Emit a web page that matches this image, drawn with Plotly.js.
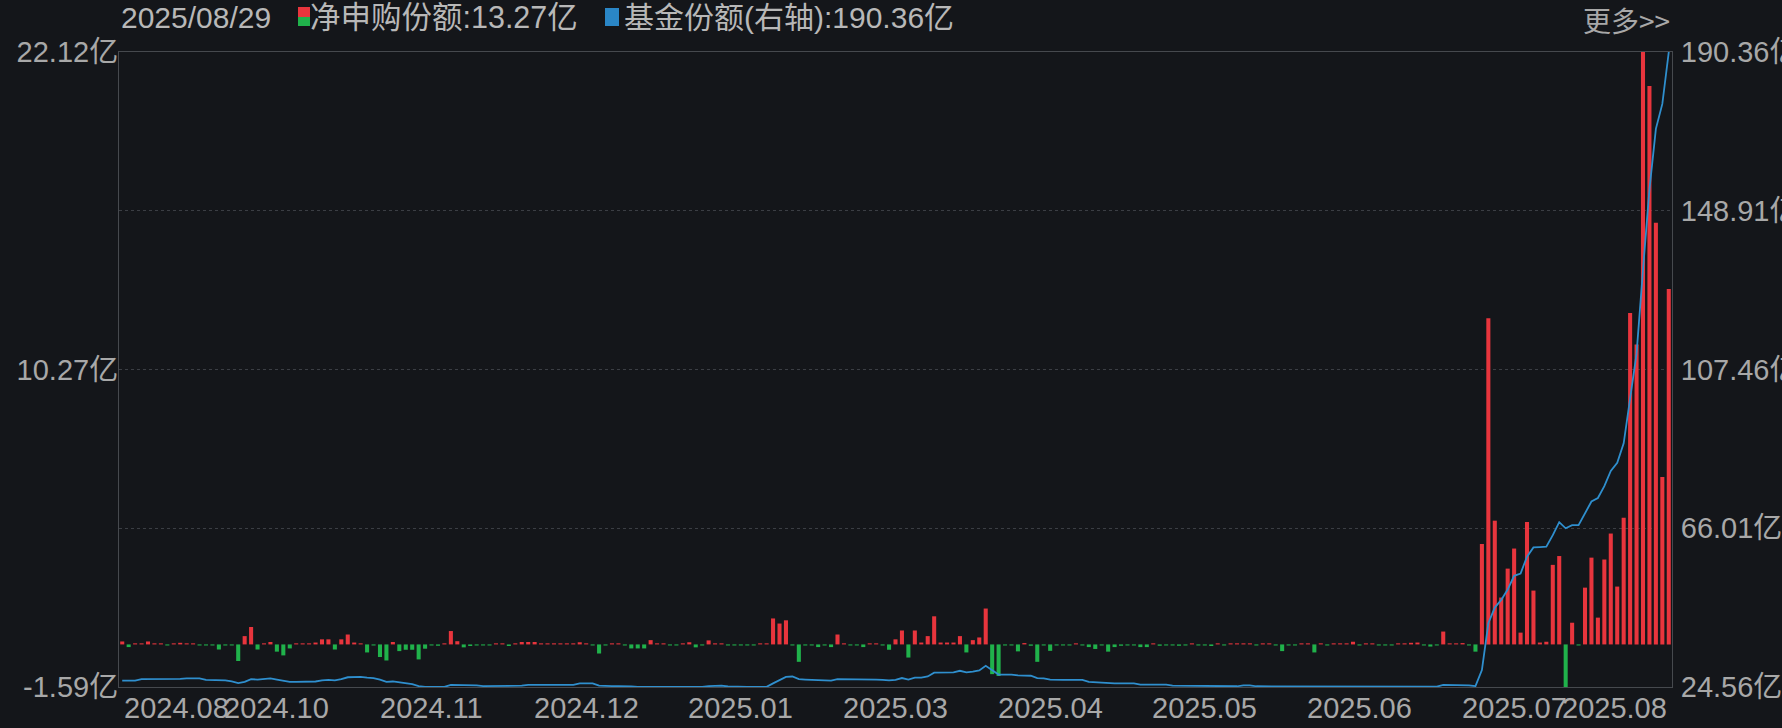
<!DOCTYPE html>
<html>
<head>
<meta charset="utf-8">
<script src="https://cdn.plot.ly/plotly-3.0.1.min.js"></script>
<style>
  html, body { margin: 0; padding: 0; background: #14161a; }
  #chart { width: 1782px; height: 728px; }
</style>
</head>
<body>
<div id="chart"></div>
<script>
// ---- data (亿) ----
const lastDate = '2025/08/29';

// 净申购份额 (left axis), one value per trading day
const netSub = [
  0.11,-0.10,0.04,0.04,0.11,0.04,0.04,-0.04,0.04,0.06,
  0.04,0.04,-0.04,-0.04,-0.04,-0.19,-0.04,-0.04,-0.62,0.31,
  0.65,-0.19,0.04,0.09,-0.27,-0.41,-0.15,0.04,0.04,0.04,
  0.07,0.19,0.19,-0.19,0.19,0.37,0.07,0.04,-0.30,-0.04,
  -0.47,-0.60,0.09,-0.25,-0.20,-0.20,-0.56,-0.16,-0.04,-0.05,
  0.04,0.50,0.12,-0.11,-0.06,-0.04,-0.04,-0.04,0.04,0.04,
  -0.06,0.04,0.09,0.09,0.09,0.04,0.04,0.04,0.04,0.04,
  0.04,0.08,0.04,-0.04,-0.34,-0.04,0.04,0.04,-0.04,-0.15,
  -0.15,-0.15,0.16,0.04,0.04,-0.04,-0.04,0.04,0.08,-0.11,
  -0.04,0.15,0.04,0.04,-0.04,-0.04,-0.04,-0.04,-0.04,0.04,
  0.04,0.97,0.78,0.90,-0.04,-0.65,-0.04,-0.04,-0.10,-0.04,
  -0.10,0.37,0.04,-0.04,-0.04,-0.10,0.04,0.04,-0.04,-0.20,
  0.19,0.52,-0.49,0.52,0.07,0.31,1.05,0.07,0.07,0.07,
  0.31,-0.30,0.16,0.26,1.34,-1.11,-1.18,-0.04,-0.04,-0.26,
  0.05,-0.05,-0.65,-0.04,-0.24,-0.04,-0.04,-0.04,0.04,-0.04,
  -0.10,-0.17,-0.04,-0.27,-0.10,-0.05,-0.04,-0.04,-0.10,-0.10,
  0.04,-0.05,-0.04,-0.04,-0.05,-0.04,0.04,-0.04,-0.04,-0.06,
  0.04,-0.04,0.04,0.04,0.04,0.04,-0.04,0.04,0.04,-0.04,
  -0.25,-0.04,-0.04,0.04,0.04,-0.30,0.04,-0.04,0.04,0.04,
  0.04,0.10,-0.04,0.04,0.04,-0.04,-0.04,-0.04,0.04,0.04,
  0.06,0.07,-0.04,-0.08,-0.04,0.48,0.04,0.04,0.05,-0.04,
  -0.27,3.75,12.18,4.62,1.75,2.83,3.58,0.44,4.57,2.01,
  0.07,0.10,2.97,3.30,-1.59,0.81,-0.04,2.12,3.24,1.00,
  3.17,4.14,2.16,4.73,12.37,11.20,22.12,20.85,15.74,6.25,
  13.27
];

// 基金份额 (right axis)
const fundShares = [
  26.2,26.2,26.2,26.6,26.6,26.6,26.6,26.6,26.6,26.7,
  26.8,26.8,26.8,26.4,26.4,26.3,26.3,26.0,25.6,25.9,
  26.6,26.5,26.6,26.8,26.5,26.1,25.9,25.9,25.9,25.9,
  26.0,26.3,26.4,26.3,26.6,27.1,27.2,27.2,27.0,26.9,
  26.5,25.9,26.0,25.8,25.5,25.3,24.8,24.6,24.6,24.6,
  24.6,25.1,25.1,25.1,25.0,25.0,24.8,24.8,24.8,24.8,
  24.8,24.8,24.9,25.1,25.1,25.1,25.1,25.1,25.1,25.1,
  25.1,25.5,25.5,25.5,24.9,24.8,24.8,24.8,24.8,24.7,
  24.6,24.56,24.6,24.6,24.6,24.6,24.6,24.6,24.7,24.6,
  24.6,24.8,24.9,24.9,24.7,24.6,24.6,24.56,24.56,24.56,
  24.6,25.5,26.3,27.2,27.3,26.6,26.5,26.4,26.3,26.3,
  26.2,26.6,26.6,26.6,26.6,26.5,26.5,26.5,26.4,26.3,
  26.4,26.9,26.5,27.0,27.0,27.3,28.3,28.3,28.4,28.4,
  28.8,28.4,28.6,28.9,30.1,29.0,27.8,27.8,27.8,27.6,
  27.6,27.5,26.9,26.8,26.5,26.4,26.4,26.4,26.4,26.4,
  25.9,25.8,25.7,25.5,25.5,25.5,25.5,25.5,25.2,25.2,
  25.2,25.2,25.2,24.9,24.9,24.9,24.9,24.9,24.75,24.75,
  24.75,24.75,24.75,24.75,25.0,25.0,24.75,24.75,24.75,24.75,
  24.6,24.56,24.56,24.56,24.56,24.56,24.56,24.56,24.56,24.56,
  24.56,24.56,24.56,24.56,24.56,24.56,24.56,24.56,24.56,24.56,
  24.6,24.65,24.65,24.65,24.65,25.1,25.1,25.1,25.1,25.0,
  24.8,29.0,41.2,45.3,47.3,50.0,53.6,54.2,58.6,61.0,
  61.1,61.2,64.2,67.6,66.0,66.8,66.8,69.9,73.0,73.9,
  77.0,81.0,83.1,88.2,100.2,111.6,133.5,154.5,170.3,176.8,
  190.36
];

// x-axis labels (trading-day index -> month label)
const xTickIdx  = [0, 24, 48, 72, 96, 120, 144, 168, 192, 216, 240];
const xTickText = ['2024.08','2024.10','2024.11','2024.12','2025.01','2025.03',
                   '2025.04','2025.05','2025.06','2025.07','2025.08'];

// left axis ticks (blank labels carry the dotted grid lines)
const leftTickVals  = [-1.59, 4.3375, 10.265, 16.1925, 22.12];
const leftTickText  = ['-1.59亿', '', '10.27亿', '', '22.12亿'];
// right axis ticks
const rightTickVals = [24.56, 66.01, 107.46, 148.91, 190.36];
const rightTickText = ['24.56亿', '66.01亿', '107.46亿', '148.91亿', '190.36亿'];

// ---- drawing ----
const RED = '#e8353d', GREEN = '#20b24b', BLUE = '#2f8fce';
const BG = '#14161a', BORDER = '#46494e', AXIS_TXT = '#a8a8a8', LEG_TXT = '#b8b8b8';
const FONT = 'Liberation Sans, Arial, Noto Sans CJK SC, sans-serif';

const xs = netSub.map((_, i) => i);

const barTrace = {
  type: 'bar', x: xs, y: netSub, yaxis: 'y',
  marker: { color: netSub.map(v => v >= 0 ? RED : GREEN), line: { width: 0 } },
  hoverinfo: 'skip'
};
const lineTrace = {
  type: 'scatter', mode: 'lines', x: xs, y: fundShares, yaxis: 'y2',
  line: { color: BLUE, width: 1.8 },
  hoverinfo: 'skip'
};

const annotations = [];
xTickIdx.forEach((idx, k) => {
  annotations.push({
    x: idx, xref: 'x', y: 0, yref: 'paper',
    xanchor: k === 0 ? 'left' : (k === xTickIdx.length - 1 ? 'right' : 'center'),
    yanchor: 'middle', yshift: -21, showarrow: false,
    text: xTickText[k], font: { family: FONT, size: 29, color: AXIS_TXT }
  });
});
const lastNet = netSub[netSub.length - 1].toFixed(2);
const lastShares = fundShares[fundShares.length - 1].toFixed(2);
annotations.push(
  { x: 0, xref: 'paper', y: 1, yref: 'paper', xanchor: 'left', yanchor: 'middle',
    xshift: 0, yshift: 35, showarrow: false, text: lastDate,
    font: { family: FONT, size: 30, color: LEG_TXT } },
  { x: 0, xref: 'paper', y: 1, yref: 'paper', xanchor: 'left', yanchor: 'middle',
    xshift: 189, yshift: 35, showarrow: false, text: '净申购份额:' + lastNet + '亿',
    font: { family: FONT, size: 30.5, color: LEG_TXT } },
  { x: 0, xref: 'paper', y: 1, yref: 'paper', xanchor: 'left', yanchor: 'middle',
    xshift: 503, yshift: 35, showarrow: false, text: '基金份额(右轴):' + lastShares + '亿',
    font: { family: FONT, size: 30, color: LEG_TXT } },
  { x: 1, xref: 'paper', y: 1, yref: 'paper', xanchor: 'right', yanchor: 'middle',
    xshift: 0, yshift: 32, showarrow: false, text: '更多>>',
    font: { family: 'Noto Sans CJK SC, sans-serif', size: 28, color: AXIS_TXT } }
);

const swatch = (x0, x1, y0, y1, color) => ({
  type: 'rect', xref: 'paper', yref: 'paper',
  xsizemode: 'pixel', xanchor: 0, ysizemode: 'pixel', yanchor: 1,
  x0: x0, x1: x1, y0: y0, y1: y1,
  fillcolor: color, line: { width: 0 }
});

const layout = {
  width: 1782, height: 728,
  paper_bgcolor: BG, plot_bgcolor: BG,
  margin: { l: 119, r: 110, t: 52, b: 41, pad: 0 },
  showlegend: false,
  bargap: 0.37,
  font: { family: FONT, size: 29, color: AXIS_TXT },
  xaxis: {
    range: [-0.5, netSub.length - 0.5],
    showticklabels: false, showgrid: false, zeroline: false,
    showline: true, mirror: true, linecolor: BORDER, linewidth: 1, ticks: ''
  },
  yaxis: {
    range: [leftTickVals[0], leftTickVals[leftTickVals.length - 1]],
    tickmode: 'array', tickvals: leftTickVals, ticktext: leftTickText,
    showgrid: true, gridcolor: '#3b3e44', griddash: 'dot', gridwidth: 1,
    zeroline: false, showline: true, linecolor: BORDER, linewidth: 1,
    ticks: '', ticklabelstandoff: -6,
    tickfont: { family: FONT, size: 29, color: AXIS_TXT }
  },
  yaxis2: {
    overlaying: 'y', side: 'right',
    range: [rightTickVals[0], rightTickVals[rightTickVals.length - 1]],
    tickmode: 'array', tickvals: rightTickVals, ticktext: rightTickText,
    showgrid: false, zeroline: false, showline: true, linecolor: BORDER, linewidth: 1,
    ticks: '', ticklabelstandoff: 2,
    tickfont: { family: FONT, size: 29, color: AXIS_TXT }
  },
  annotations: annotations,
  shapes: [
    swatch(179, 191, 35, 45, RED),
    swatch(179, 191, 26, 35, GREEN),
    swatch(486, 500, 26, 44, '#2a86c6')
  ]
};

Plotly.newPlot('chart', [barTrace, lineTrace], layout, { displayModeBar: false, staticPlot: true });
</script>
</body>
</html>
